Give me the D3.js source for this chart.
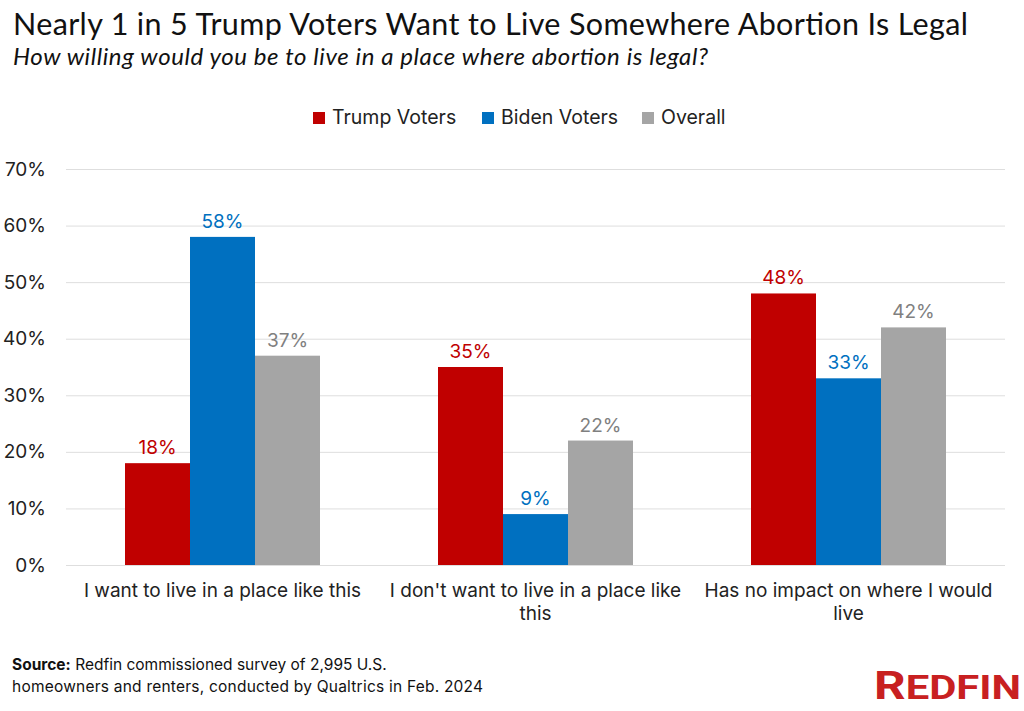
<!DOCTYPE html>
<html><head><meta charset="utf-8">
<script src="https://cdn.jsdelivr.net/npm/d3@7"></script>
<style>body{margin:0;background:#fff}svg{display:block}</style>
</head><body>
<svg id="c" width="1024" height="711"></svg>
<script>
const categories = ["I want to live in a place like this", "I don't want to live in a place like this", "Has no impact on where I would live"];
const seriesNames = ["Trump Voters", "Biden Voters", "Overall"];
const trump = [18, 35, 48];
const biden = [58, 9, 33];
const overall = [37, 22, 42];
const yTicks = [0, 10, 20, 30, 40, 50, 60, 70];

const colors = ["#c00000", "#0070c0", "#a5a5a5"];
const labelColors = ["#c00000", "#0070c0", "#808080"];
const series = [trump, biden, overall];
const svg = d3.select("#c");
const bodyFont = "Inter, 'Open Sans', sans-serif";

const x0 = d3.scaleBand().domain(categories).range([66, 1005]).paddingInner(0).paddingOuter(0);
const x1 = d3.scaleBand().domain(seriesNames).range([59, x0.bandwidth() - 59]);
const y = d3.scaleLinear().domain([0, 70]).range([565, 169]);

// title
svg.append("text").attr("x", 13).attr("y", 35).attr("font-family", "Lato, sans-serif")
  .attr("font-size", 30.5).attr("fill", "#111").attr("textLength", 955).attr("lengthAdjust", "spacing")
  .text("Nearly 1 in 5 Trump Voters Want to Live Somewhere Abortion Is Legal");
svg.append("text").attr("x", 13).attr("y", 65).attr("font-family", "Lato, sans-serif")
  .attr("font-style", "italic").attr("font-size", 24).attr("fill", "#111").attr("textLength", 695).attr("lengthAdjust", "spacing")
  .text("How willing would you be to live in a place where abortion is legal?");

// gridlines
svg.append("g").selectAll("line").data(yTicks).join("line")
  .attr("x1", 66).attr("x2", 1005).attr("y1", d => y(d) + 0.5).attr("y2", d => y(d) + 0.5)
  .attr("stroke", "#dedede").attr("stroke-width", 1);

// y axis
const yAxis = d3.axisLeft(y).tickValues(yTicks).tickFormat(d => d + "%").tickSize(0).tickPadding(0);
const ga = svg.append("g").attr("transform", "translate(46,0)").call(yAxis);
ga.select(".domain").remove();
ga.selectAll("text").attr("font-family", bodyFont).attr("font-size", 19).attr("fill", "#222");

// bars
const groups = svg.append("g").selectAll("g").data(categories).join("g")
  .attr("transform", d => `translate(${x0(d)},0)`);
groups.selectAll("rect").data((c, i) => seriesNames.map((s, j) => ({s, j, v: series[j][i]}))).join("rect")
  .attr("x", d => x1(d.s)).attr("width", x1.bandwidth())
  .attr("y", d => y(d.v)).attr("height", d => y(0) - y(d.v))
  .attr("fill", d => colors[d.j]);
groups.selectAll("text.lbl").data((c, i) => seriesNames.map((s, j) => ({s, j, v: series[j][i]}))).join("text")
  .attr("class", "lbl")
  .attr("x", d => x1(d.s) + x1.bandwidth() / 2).attr("y", d => y(d.v) - 9)
  .attr("text-anchor", "middle").attr("font-family", bodyFont).attr("font-size", 19)
  .attr("fill", d => labelColors[d.j]).text(d => d.v + "%");

// x axis labels with wrapping
const xAxis = d3.axisBottom(x0).tickSize(0).tickPadding(0);
const gx = svg.append("g").attr("transform", "translate(0,565)").call(xAxis);
gx.select(".domain").remove();
gx.selectAll("text").attr("font-family", bodyFont).attr("font-size", 19).attr("fill", "#222")
  .attr("dy", null).attr("y", null)
  .each(function(d) {
    const t = d3.select(this);
    const words = d.split(" ");
    t.text(null);
    let line = [], lines = [];
    const probe = t.append("tspan");
    words.forEach(w => {
      line.push(w);
      probe.text(line.join(" "));
      if (probe.node().getComputedTextLength() > 300 && line.length > 1) {
        line.pop(); lines.push(line.join(" ")); line = [w];
      }
    });
    lines.push(line.join(" "));
    probe.remove();
    lines.forEach((l, k) => t.append("tspan").attr("x", 0).attr("y", 32 + k * 23).text(l));
  });

// legend
const legend = svg.append("g");
const legendX = [313, 482, 642];
seriesNames.forEach((s, j) => {
  legend.append("rect").attr("x", legendX[j]).attr("y", 112).attr("width", 12).attr("height", 12).attr("fill", colors[j]);
  legend.append("text").attr("x", legendX[j] + 19).attr("y", 124).attr("font-family", bodyFont)
    .attr("font-size", 19.5).attr("fill", "#222").text(s);
});

// source
const src = svg.append("text").attr("x", 12).attr("y", 670).attr("font-family", bodyFont).attr("font-size", 15.5).attr("fill", "#111");
src.append("tspan").attr("font-weight", "bold").text("Source:");
src.append("tspan").text(" Redfin commissioned survey of 2,995 U.S.");
svg.append("text").attr("x", 12).attr("y", 692).attr("font-family", bodyFont).attr("font-size", 15.5).attr("fill", "#111")
  .attr("textLength", 471).attr("lengthAdjust", "spacing")
  .text("homeowners and renters, conducted by Qualtrics in Feb. 2024");

// logo
const logo = svg.append("text").attr("x", 874).attr("y", 699)
  .attr("font-family", "'Liberation Sans Narrow', 'Roboto', sans-serif").attr("font-weight", "bold").attr("fill", "#c82021")
  .attr("textLength", 147).attr("lengthAdjust", "spacingAndGlyphs");
logo.append("tspan").attr("font-size", 39).text("R");
logo.append("tspan").attr("font-size", 33).text("EDFIN");
</script>
</body></html>
